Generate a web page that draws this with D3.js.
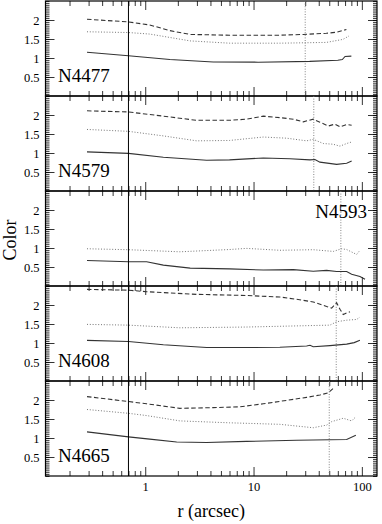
<!DOCTYPE html>
<html>
<head>
<meta charset="utf-8">
<script src="https://cdn.jsdelivr.net/npm/d3@7"></script>
<style>
  body { margin: 0; background: #fff; }
  svg { display: block; }
  text { font-family: "Liberation Serif", "DejaVu Serif", serif; }
</style>
</head>
<body>
<script>
// colour profiles of five galaxies, one panel each (top to bottom)
var galaxies = ["N4477", "N4579", "N4593", "N4608", "N4665"];
var cutRadius = [30, 36, 64, 58, 50];   // dotted vertical marker per panel
var seeingRadius = 0.7;                 // solid vertical line through all panels

// [r (arcsec), colour]
var solid4477 = [[0.29,1.15],[0.70,1.06],[1.69,0.96],[4.25,0.895],[11,0.89],[33,0.91],[60,0.94],[66,0.96],[70,1.04],[80,1.05]];
var dotted4477 = [[0.29,1.69],[0.70,1.67],[1.1,1.63],[1.69,1.54],[2.6,1.45],[6.0,1.39],[17.5,1.39],[47,1.41],[67,1.49],[76,1.58]];
var dashed4477 = [[0.29,2.02],[0.70,1.95],[1.1,1.87],[1.69,1.72],[2.6,1.62],[6.0,1.60],[17.5,1.60],[28.8,1.62],[47,1.65],[58.5,1.68],[72,1.75]];

var solid4579 = [[0.29,1.03],[0.70,0.99],[1.47,0.89],[3.69,0.81],[6.0,0.82],[12.3,0.87],[21.7,0.85],[33.2,0.82],[36.9,0.83],[41,0.76],[58.5,0.70],[72.4,0.73],[80.5,0.79]];
var dotted4579 = [[0.29,1.62],[0.70,1.57],[1.47,1.45],[2.98,1.32],[6.0,1.33],[12.3,1.42],[20.2,1.39],[30.9,1.32],[35.6,1.36],[44,1.25],[54.5,1.23],[62.8,1.18],[72.4,1.25],[80.5,1.29]];
var dashed4579 = [[0.29,2.11],[0.70,2.08],[1.47,1.97],[2.98,1.86],[6.0,1.86],[8.6,1.89],[12.3,1.97],[17.5,1.93],[23.3,1.89],[28.8,1.82],[35.6,1.89],[41,1.81],[49,1.71],[56.5,1.76],[62.8,1.69],[72.4,1.75],[80.5,1.73]];

var solid4593 = [[0.29,0.67],[0.70,0.64],[1.03,0.64],[1.47,0.55],[2.6,0.47],[6.0,0.45],[12.3,0.42],[23.3,0.43],[35.6,0.39],[47.3,0.41],[58.5,0.38],[72.4,0.38],[80.5,0.31],[96,0.25],[107,0.18]];
var dotted4593 = [[0.29,0.98],[0.70,0.955],[2.09,0.90],[6.0,0.96],[8.6,0.99],[17.5,0.94],[35.6,0.955],[54.5,0.91],[65,0.98],[72.4,0.96],[89.5,0.83],[96,0.94]];
var dashed4593 = [];

var solid4608 = [[0.29,1.07],[0.70,1.04],[1.47,0.955],[3.69,0.88],[8.6,0.88],[17.5,0.89],[30.9,0.92],[33.2,0.94],[35.6,0.90],[50.7,0.93],[72.4,0.97],[85,1.01],[96,1.07]];
var dotted4608 = [[0.29,1.49],[0.70,1.47],[2.09,1.40],[8.6,1.42],[25,1.45],[50.7,1.47],[58.5,1.56],[72.4,1.60],[89.5,1.62],[96,1.68]];
var dashed4608 = [[0.29,2.41],[0.70,2.39],[1.03,2.35],[2.98,2.28],[8.6,2.25],[17.5,2.21],[25,2.15],[35.6,2.08],[47.3,1.96],[52.6,1.92],[58.5,2.06],[62.8,1.89],[67.3,1.75],[72.4,1.79],[77.7,1.82]];

var solid4665 = [[0.29,1.16],[0.70,1.03],[1.1,0.97],[1.95,0.895],[3.69,0.88],[8.6,0.91],[25,0.94],[50.7,0.955],[72.4,0.96],[88,1.07]];
var dotted4665 = [[0.29,1.75],[0.70,1.65],[1.03,1.59],[2.09,1.45],[6.0,1.40],[17.5,1.36],[35.6,1.27],[47.3,1.34],[52.6,1.43],[67.3,1.52],[80.5,1.45],[88,1.56]];
var dashed4665 = [[0.29,2.09],[0.70,1.96],[1.03,1.90],[2.09,1.78],[4.25,1.80],[7.5,1.82],[12.3,1.90],[20.2,1.99],[30.9,2.07],[41,2.13],[49,2.19],[54.5,2.31]];

var solidSeries = [solid4477, solid4579, solid4593, solid4608, solid4665];
var dottedSeries = [dotted4477, dotted4579, dotted4593, dotted4608, dotted4665];
var dashedSeries = [dashed4477, dashed4579, dashed4593, dashed4608, dashed4665];

var xMajorTicks = [1, 10, 100];
var xMinorTicks = [0.2,0.3,0.4,0.5,0.6,0.7,0.8,0.9, 2,3,4,5,6,7,8,9, 20,30,40,50,60,70,80,90];
var yMajorTicks = [0.5, 1, 1.5, 2];
var yMinorTicks = d3.range(0, 51).map(function(i) { return i * 0.05; });

var W = 382, H = 524;
var plotLeft = 45.5, plotRight = 377, plotTop = 1, panelH = 95;
var serif = "Liberation Serif";

var svg = d3.select("body").append("svg").attr("width", W).attr("height", H);

var x = d3.scaleLog().domain([0.12, 138]).range([plotLeft, plotRight]);

var line = d3.line()
  .x(function(d) { return x(d[0]); });

galaxies.forEach(function(name, i) {
  var y0 = plotTop + i * panelH;
  var y = d3.scaleLinear().domain([0, 2.5]).range([y0 + panelH, y0]);
  var g = svg.append("g");

  // ticks, all pointing into the panel
  function addAxis(axis, tr) {
    var a = g.append("g").attr("transform", tr).call(axis);
    a.select(".domain").remove();
    a.attr("font-family", serif);
    a.selectAll("line").attr("stroke", "#000").attr("stroke-width", 0.8);
    return a;
  }
  addAxis(d3.axisBottom(x).tickValues(xMinorTicks).tickSize(-5).tickFormat(""), "translate(0," + (y0 + panelH) + ")");
  addAxis(d3.axisTop(x).tickValues(xMinorTicks).tickSize(-5).tickFormat(""), "translate(0," + y0 + ")");
  addAxis(d3.axisTop(x).tickValues(xMajorTicks).tickSize(-9).tickFormat(""), "translate(0," + y0 + ")");
  var xb = addAxis(d3.axisBottom(x).tickValues(xMajorTicks).tickSize(-9).tickPadding(6)
      .tickFormat(i === galaxies.length - 1 ? d3.format("d") : ""), "translate(0," + (y0 + panelH) + ")");
  xb.selectAll("text").attr("font-size", 12.5).attr("fill", "#000");

  addAxis(d3.axisLeft(y).tickValues(yMinorTicks).tickSize(-4).tickFormat(""), "translate(" + plotLeft + ",0)");
  addAxis(d3.axisRight(y).tickValues(yMinorTicks).tickSize(-4).tickFormat(""), "translate(" + plotRight + ",0)");
  addAxis(d3.axisRight(y).tickValues(yMajorTicks).tickSize(-9).tickFormat(""), "translate(" + plotRight + ",0)");
  var yl = addAxis(d3.axisLeft(y).tickValues(yMajorTicks).tickSize(-9).tickPadding(6).tickFormat(d3.format("")),
      "translate(" + plotLeft + ",0)");
  yl.selectAll("text").attr("font-size", 12.5).attr("fill", "#000");

  // panel frame
  g.append("rect")
    .attr("x", plotLeft).attr("y", y0).attr("width", plotRight - plotLeft).attr("height", panelH)
    .attr("fill", "none").attr("stroke", "#000").attr("stroke-width", 1.2);

  // dotted marker radius
  g.append("line")
    .attr("x1", x(cutRadius[i])).attr("x2", x(cutRadius[i]))
    .attr("y1", y0).attr("y2", y0 + panelH)
    .attr("stroke", "#777").attr("stroke-width", 0.9).attr("stroke-dasharray", "1,1.6");

  line.y(function(d) { return y(d[1]); });
  g.append("path").datum(solidSeries[i]).attr("d", line)
    .attr("fill", "none").attr("stroke", "#333").attr("stroke-width", 1.1);
  g.append("path").datum(dottedSeries[i]).attr("d", line)
    .attr("fill", "none").attr("stroke", "#777").attr("stroke-width", 1).attr("stroke-dasharray", "1,1.8");
  if (dashedSeries[i].length) {
    g.append("path").datum(dashedSeries[i]).attr("d", line)
      .attr("fill", "none").attr("stroke", "#333").attr("stroke-width", 1.1).attr("stroke-dasharray", "4.5,2.5");
  }

  var lab = g.append("text").text(name)
    .attr("font-family", serif).attr("font-size", 19).attr("fill", "#000");
  if (i === 2) {
    lab.attr("x", 367).attr("y", y0 + 27).attr("text-anchor", "end");
  } else {
    lab.attr("x", 58).attr("y", y0 + 81);
  }
});

// seeing radius line across all panels
svg.append("line")
  .attr("x1", x(seeingRadius)).attr("x2", x(seeingRadius))
  .attr("y1", plotTop).attr("y2", plotTop + panelH * galaxies.length)
  .attr("stroke", "#000").attr("stroke-width", 1);

svg.append("text")
  .attr("x", (plotLeft + plotRight) / 2).attr("y", 517)
  .attr("text-anchor", "middle").attr("font-family", serif).attr("font-size", 18)
  .text("r (arcsec)");

svg.append("text")
  .attr("transform", "translate(15.5,240) rotate(-90)")
  .attr("text-anchor", "middle").attr("font-family", serif).attr("font-size", 18)
  .text("Color");
</script>
</body>
</html>
